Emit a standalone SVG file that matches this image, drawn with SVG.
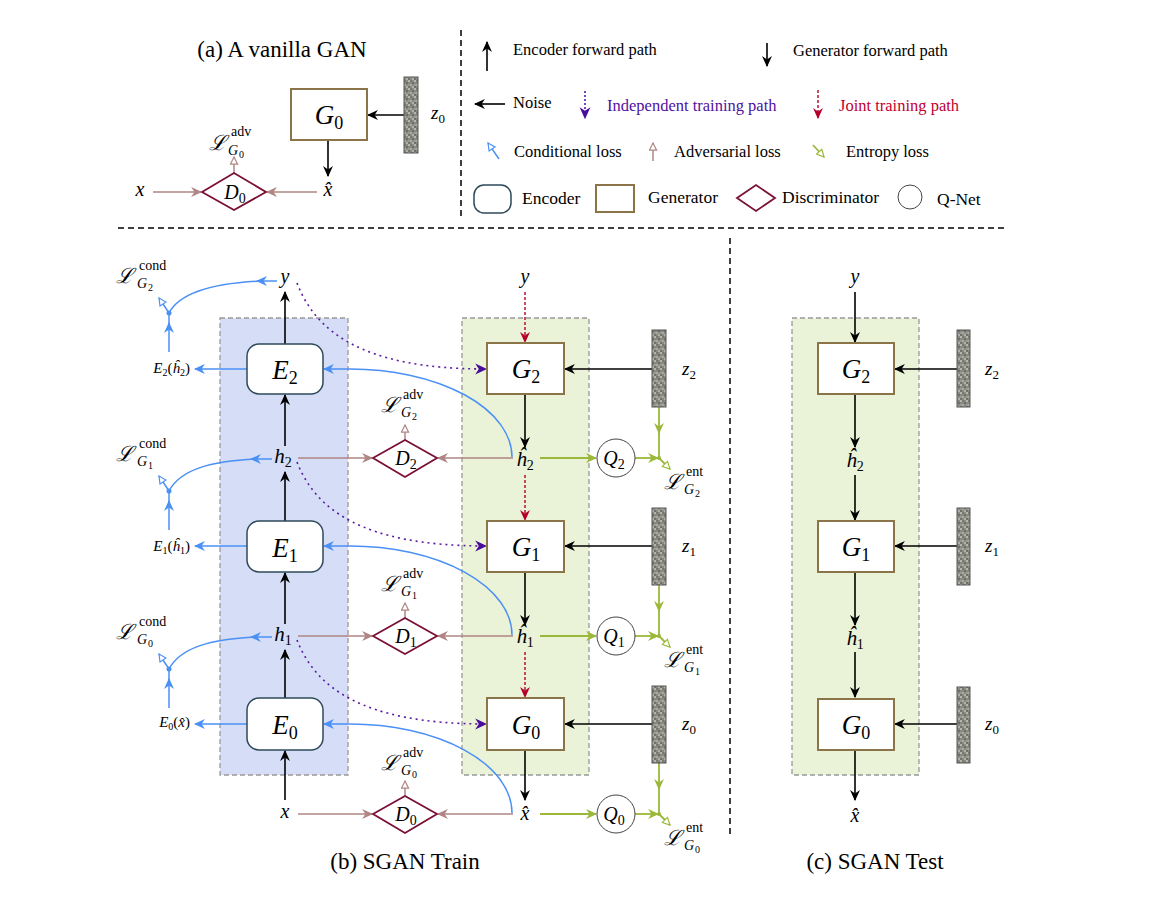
<svg xmlns="http://www.w3.org/2000/svg" width="1170" height="901" viewBox="0 0 1170 901">
<style>
.v{font-family:'Liberation Serif',serif;font-style:italic}
.r{font-family:'Liberation Serif',serif}
.cal{font-family:'DejaVu Serif',serif;font-style:italic;font-size:21px}
.lg{font-family:'Liberation Serif',serif;font-size:16.5px}
.lb{font-family:'Liberation Serif',serif;font-size:17.5px}
.sup{font-family:'Liberation Serif',serif;font-size:14px}
.sg{font-family:'Liberation Serif',serif;font-style:italic;font-size:14px}
.sd{font-family:'Liberation Serif',serif;font-size:10px}
.enc{fill:#fff;stroke:#2e4a5a;stroke-width:1.5}
.gen{fill:#fff;stroke:#8b7448;stroke-width:2}
.dis{fill:#fff;stroke:#7a1034;stroke-width:1.8}
.q{fill:#fff;stroke:#444;stroke-width:1}
.bar{fill:url(#nz);stroke:#555;stroke-width:1}
.blk{stroke:#000;stroke-width:1.6;fill:none;marker-end:url(#ak)}
.blu{stroke:#4a90f5;stroke-width:1.5;fill:none}
.brn{stroke:#b08584;stroke-width:1.5;fill:none}
.grn{stroke:#9bb83a;stroke-width:1.8;fill:none}
.red{stroke:#b5002a;stroke-width:1.4;fill:none;stroke-dasharray:3 2;marker-end:url(#ar)}
.pur{stroke:#5a1aa0;stroke-width:1.6;fill:none;stroke-dasharray:2 4;marker-end:url(#ap)}
.dl{stroke:#000;stroke-width:1.5;stroke-dasharray:6 4;fill:none}
</style>
<defs>
<pattern id="nz" width="6" height="8" patternUnits="userSpaceOnUse">
<rect width="6" height="8" fill="#8a8a82"/>
<rect x="0" y="0" width="2" height="2" fill="#b5b5ac"/>
<rect x="4" y="2" width="2" height="2" fill="#6e6e68"/>
<rect x="2" y="4" width="2" height="2" fill="#a8a8a0"/>
<rect x="0" y="6" width="2" height="2" fill="#70706a"/>
<rect x="2" y="0" width="2" height="2" fill="#7a7a74"/>
<rect x="4" y="6" width="2" height="2" fill="#b0b0a8"/>
<rect x="0" y="4" width="2" height="2" fill="#9a9a94"/>
</pattern>
<marker id="ak" viewBox="0 0 10 10" refX="9" refY="5" markerWidth="11" markerHeight="11" orient="auto" markerUnits="userSpaceOnUse"><path d="M0,0.5 L10,5 L0,9.5 L3,5 Z" fill="#000"/></marker>
<marker id="ab" viewBox="0 0 10 10" refX="9" refY="5" markerWidth="11" markerHeight="11" orient="auto" markerUnits="userSpaceOnUse"><path d="M0,0.5 L10,5 L0,9.5 L3,5 Z" fill="#4a90f5"/></marker>
<marker id="an" viewBox="0 0 10 10" refX="9" refY="5" markerWidth="11" markerHeight="11" orient="auto" markerUnits="userSpaceOnUse"><path d="M0,0.5 L10,5 L0,9.5 L3,5 Z" fill="#b08584"/></marker>
<marker id="ag" viewBox="0 0 10 10" refX="9" refY="5" markerWidth="11" markerHeight="11" orient="auto" markerUnits="userSpaceOnUse"><path d="M0,0.5 L10,5 L0,9.5 L3,5 Z" fill="#9bb83a"/></marker>
<marker id="ar" viewBox="0 0 10 10" refX="9" refY="5" markerWidth="11" markerHeight="11" orient="auto" markerUnits="userSpaceOnUse"><path d="M0,0.5 L10,5 L0,9.5 L3,5 Z" fill="#b5002a"/></marker>
<marker id="ap" viewBox="0 0 10 10" refX="9" refY="5" markerWidth="12" markerHeight="12" orient="auto" markerUnits="userSpaceOnUse"><path d="M0,0.5 L10,5 L0,9.5 L3,5 Z" fill="#4a0c9a"/></marker>
<marker id="ob" viewBox="0 0 10 10" refX="9" refY="5" markerWidth="9" markerHeight="9" orient="auto" markerUnits="userSpaceOnUse"><path d="M1,1 L9,5 L1,9 Z" fill="#fff" stroke="#4a90f5" stroke-width="1.3"/></marker>
<marker id="on" viewBox="0 0 10 10" refX="9" refY="5" markerWidth="9" markerHeight="9" orient="auto" markerUnits="userSpaceOnUse"><path d="M1,1 L9,5 L1,9 Z" fill="#fff" stroke="#b08584" stroke-width="1.3"/></marker>
<marker id="og" viewBox="0 0 10 10" refX="9" refY="5" markerWidth="9" markerHeight="9" orient="auto" markerUnits="userSpaceOnUse"><path d="M1,1 L9,5 L1,9 Z" fill="#fff" stroke="#9bb83a" stroke-width="1.3"/></marker>
</defs>
<rect width="1170" height="901" fill="#fff"/>

<g id="dividers">
<line class="dl" x1="461" y1="30" x2="461" y2="218"/>
<line class="dl" x1="118" y1="228" x2="1005" y2="228"/>
<line class="dl" x1="730" y1="238" x2="730" y2="835"/>
</g>

<g id="enc-region"><rect x="220" y="318" width="128" height="457" fill="#d6def7" stroke="#999" stroke-width="1.3" stroke-dasharray="5 3"/></g>
<g id="gen-region-b"><rect x="462" y="318" width="127" height="457" fill="#eaf2d8" stroke="#999" stroke-width="1.3" stroke-dasharray="5 3"/></g>
<g id="gen-region-c"><rect x="792" y="318" width="127" height="457" fill="#eaf2d8" stroke="#999" stroke-width="1.3" stroke-dasharray="5 3"/></g>

<text class="r" x="282" y="57" font-size="23" text-anchor="middle">(a) A vanilla GAN</text>
<text class="r" x="405" y="869" font-size="23" text-anchor="middle">(b) SGAN Train</text>
<text class="r" x="875" y="869" font-size="23" text-anchor="middle">(c) SGAN Test</text>

<g id="legend">
<line x1="487" y1="71" x2="487" y2="42" class="blk"/>
<text class="lg" x="513" y="55">Encoder forward path</text>
<line x1="767" y1="43" x2="767" y2="66" class="blk"/>
<text class="lg" x="793" y="56">Generator forward path</text>
<line x1="505" y1="104" x2="475" y2="104" class="blk"/>
<text class="lg" x="513" y="108">Noise</text>
<line x1="585" y1="91" x2="585" y2="118" class="pur" style="stroke-dasharray:2 2"/>
<text class="lg" x="607" y="111" fill="#5010a0">Independent training path</text>
<line x1="818" y1="90" x2="818" y2="118" class="red"/>
<text class="lg" x="839" y="111" fill="#c00030">Joint training path</text>
<line x1="499" y1="159" x2="488" y2="143" class="blu" marker-end="url(#ob)"/>
<text class="lg" x="514" y="157">Conditional loss</text>
<line x1="653" y1="161" x2="653" y2="143" class="brn" marker-end="url(#on)"/>
<text class="lg" x="674" y="157">Adversarial loss</text>
<line x1="813" y1="145" x2="824" y2="157" class="grn" stroke-width="1.4" marker-end="url(#og)"/>
<text class="lg" x="846" y="157">Entropy loss</text>
<rect x="474" y="185" width="37" height="28" rx="10" class="enc"/>
<text class="lb" x="522" y="204">Encoder</text>
<rect x="596" y="185" width="38" height="27" class="gen"/>
<text class="lb" x="648" y="203">Generator</text>
<polygon points="737,198 756,185 775,198 756,211" class="dis"/>
<text class="lb" x="782" y="203">Discriminator</text>
<circle cx="910" cy="197" r="12" class="q"/>
<text class="lb" x="937" y="205">Q-Net</text>
</g>

<g id="connectors">
<line x1="404" y1="115" x2="368" y2="115" class="blk"/>
<line x1="328" y1="140" x2="328" y2="176" class="blk"/>
<line x1="153" y1="192" x2="201" y2="192" class="brn" marker-end="url(#an)"/>
<line x1="317" y1="192" x2="267" y2="192" class="brn" marker-end="url(#an)"/>
<line x1="234" y1="173" x2="234" y2="157" class="brn" marker-end="url(#on)"/>

<line x1="285" y1="344" x2="285" y2="292" class="blk"/>
<line x1="285" y1="446" x2="285" y2="395" class="blk"/>
<line x1="285" y1="521" x2="285" y2="472" class="blk"/>
<line x1="285" y1="624" x2="285" y2="573" class="blk"/>
<line x1="285" y1="698" x2="285" y2="650" class="blk"/>
<line x1="285" y1="800" x2="285" y2="751" class="blk"/>

<line x1="247" y1="369" x2="195" y2="369" class="blu" marker-end="url(#ab)"/>
<line x1="247" y1="546" x2="195" y2="546" class="blu" marker-end="url(#ab)"/>
<line x1="247" y1="724" x2="195" y2="724" class="blu" marker-end="url(#ab)"/>
<line x1="169" y1="352" x2="169" y2="323" class="blu" marker-end="url(#ab)"/>
<line x1="169" y1="326" x2="169" y2="313" class="blu"/>
<line x1="277" y1="281" x2="257" y2="281" class="blu" marker-end="url(#ab)"/>
<path d="M 262 281 C 215 283 180 292 169 313" class="blu"/>
<line x1="169" y1="313" x2="159" y2="298" class="blu" marker-end="url(#ob)"/>
<circle cx="169" cy="313" r="2.5" fill="#4a90f5"/>

<line x1="169" y1="530" x2="169" y2="501" class="blu" marker-end="url(#ab)"/>
<line x1="169" y1="504" x2="169" y2="491" class="blu"/>
<line x1="272" y1="459" x2="251" y2="459" class="blu" marker-end="url(#ab)"/>
<path d="M 256 459 C 210 461 180 470 169 491" class="blu"/>
<line x1="169" y1="491" x2="159" y2="476" class="blu" marker-end="url(#ob)"/>
<circle cx="169" cy="491" r="2.5" fill="#4a90f5"/>

<line x1="169" y1="708" x2="169" y2="679" class="blu" marker-end="url(#ab)"/>
<line x1="169" y1="682" x2="169" y2="669" class="blu"/>
<line x1="272" y1="637" x2="251" y2="637" class="blu" marker-end="url(#ab)"/>
<path d="M 256 637 C 210 639 180 648 169 669" class="blu"/>
<line x1="169" y1="669" x2="159" y2="654" class="blu" marker-end="url(#ob)"/>
<circle cx="169" cy="669" r="2.5" fill="#4a90f5"/>

<path d="M 512 457 A 162 88 0 0 0 350 369 L 324 369" class="blu" marker-end="url(#ab)"/>
<path d="M 512 635 A 162 89 0 0 0 350 546 L 324 546" class="blu" marker-end="url(#ab)"/>
<path d="M 512 813 A 162 89 0 0 0 350 724 L 324 724" class="blu" marker-end="url(#ab)"/>

<path d="M 297 283 C 315 330 360 369 486 369" class="pur"/>
<path d="M 297 462 C 315 508 360 546 486 546" class="pur"/>
<path d="M 297 640 C 315 686 360 724 486 724" class="pur"/>

<line x1="298" y1="458" x2="372" y2="458" class="brn" marker-end="url(#an)"/>
<line x1="513" y1="458" x2="438" y2="458" class="brn" marker-end="url(#an)"/>
<line x1="405" y1="440" x2="405" y2="425" class="brn" marker-end="url(#on)"/>
<line x1="298" y1="636" x2="372" y2="636" class="brn" marker-end="url(#an)"/>
<line x1="513" y1="636" x2="438" y2="636" class="brn" marker-end="url(#an)"/>
<line x1="405" y1="618" x2="405" y2="603" class="brn" marker-end="url(#on)"/>
<line x1="298" y1="814" x2="372" y2="814" class="brn" marker-end="url(#an)"/>
<line x1="513" y1="814" x2="438" y2="814" class="brn" marker-end="url(#an)"/>
<line x1="405" y1="796" x2="405" y2="781" class="brn" marker-end="url(#on)"/>

<line x1="525" y1="292" x2="525" y2="342" class="red"/>
<line x1="525" y1="394" x2="525" y2="447" class="blk"/>
<line x1="525" y1="475" x2="525" y2="520" class="red"/>
<line x1="525" y1="572" x2="525" y2="625" class="blk"/>
<line x1="525" y1="652" x2="525" y2="697" class="red"/>
<line x1="525" y1="750" x2="525" y2="800" class="blk"/>
<line x1="652" y1="369" x2="565" y2="369" class="blk"/>
<line x1="652" y1="546" x2="565" y2="546" class="blk"/>
<line x1="652" y1="724" x2="565" y2="724" class="blk"/>

<line x1="540" y1="458" x2="596" y2="458" class="grn" marker-end="url(#ag)"/>
<line x1="635" y1="458" x2="658" y2="458" class="grn" marker-end="url(#ag)"/>
<line x1="659" y1="407" x2="659" y2="433" class="grn" marker-end="url(#ag)"/>
<line x1="659" y1="430" x2="659" y2="458" class="grn"/>
<line x1="659" y1="458" x2="670" y2="469" class="grn" stroke-width="1.3" marker-end="url(#og)"/>
<circle cx="659" cy="458" r="2" fill="#9bb83a"/>

<line x1="540" y1="636" x2="596" y2="636" class="grn" marker-end="url(#ag)"/>
<line x1="635" y1="636" x2="658" y2="636" class="grn" marker-end="url(#ag)"/>
<line x1="659" y1="585" x2="659" y2="611" class="grn" marker-end="url(#ag)"/>
<line x1="659" y1="608" x2="659" y2="636" class="grn"/>
<line x1="659" y1="636" x2="670" y2="647" class="grn" stroke-width="1.3" marker-end="url(#og)"/>
<circle cx="659" cy="636" r="2" fill="#9bb83a"/>

<line x1="540" y1="814" x2="596" y2="814" class="grn" marker-end="url(#ag)"/>
<line x1="635" y1="814" x2="658" y2="814" class="grn" marker-end="url(#ag)"/>
<line x1="659" y1="763" x2="659" y2="789" class="grn" marker-end="url(#ag)"/>
<line x1="659" y1="786" x2="659" y2="814" class="grn"/>
<line x1="659" y1="814" x2="670" y2="825" class="grn" stroke-width="1.3" marker-end="url(#og)"/>
<circle cx="659" cy="814" r="2" fill="#9bb83a"/>

<line x1="855" y1="292" x2="855" y2="342" class="blk"/>
<line x1="855" y1="394" x2="855" y2="447" class="blk"/>
<line x1="855" y1="475" x2="855" y2="520" class="blk"/>
<line x1="855" y1="572" x2="855" y2="625" class="blk"/>
<line x1="855" y1="652" x2="855" y2="697" class="blk"/>
<line x1="855" y1="750" x2="855" y2="800" class="blk"/>
<line x1="957" y1="369" x2="895" y2="369" class="blk"/>
<line x1="957" y1="546" x2="895" y2="546" class="blk"/>
<line x1="957" y1="724" x2="895" y2="724" class="blk"/>
</g>

<g id="a-G0"><rect x="291" y="89" width="76" height="51" class="gen"/><text class="v" x="329" y="124" font-size="27" text-anchor="middle">G<tspan font-style="normal" font-size="18" dy="5">0</tspan></text></g>
<g id="a-z0"><rect x="404" y="77" width="14" height="76" class="bar"/><text class="v" x="431" y="119" font-size="19">z<tspan font-style="normal" font-size="13" dy="4">0</tspan></text></g>
<g id="a-D0"><polygon points="202,192 234,173 266,192 234,210" class="dis"/><text class="v" x="235" y="199" font-size="20" text-anchor="middle">D<tspan font-style="normal" font-size="14" dy="4">0</tspan></text></g>
<g id="a-x"><text class="v" x="140" y="196" font-size="20" text-anchor="middle">x</text></g>
<g id="a-xhat"><text class="v" x="328" y="196" font-size="20" text-anchor="middle">x̂</text></g>
<g id="a-ladv"><text class="cal" x="209" y="150">ℒ</text><text class="sup" x="231" y="136">adv</text><text class="sg" x="228" y="155">G</text><text class="sd" x="239" y="158">0</text></g>

<g id="E2"><rect x="247" y="344" width="76" height="50" rx="12" class="enc"/><text class="v" x="285" y="379" font-size="27" text-anchor="middle">E<tspan font-style="normal" font-size="18" dy="5">2</tspan></text></g>
<g id="E1"><rect x="247" y="521" width="76" height="51" rx="12" class="enc"/><text class="v" x="285" y="557" font-size="27" text-anchor="middle">E<tspan font-style="normal" font-size="18" dy="5">1</tspan></text></g>
<g id="E0"><rect x="247" y="698" width="76" height="52" rx="12" class="enc"/><text class="v" x="285" y="734" font-size="27" text-anchor="middle">E<tspan font-style="normal" font-size="18" dy="5">0</tspan></text></g>

<g id="G2"><rect x="487" y="343" width="77" height="51" class="gen"/><text class="v" x="526" y="378" font-size="27" text-anchor="middle">G<tspan font-style="normal" font-size="18" dy="5">2</tspan></text></g>
<g id="G1"><rect x="487" y="521" width="77" height="51" class="gen"/><text class="v" x="526" y="556" font-size="27" text-anchor="middle">G<tspan font-style="normal" font-size="18" dy="5">1</tspan></text></g>
<g id="G0"><rect x="487" y="698" width="77" height="52" class="gen"/><text class="v" x="526" y="734" font-size="27" text-anchor="middle">G<tspan font-style="normal" font-size="18" dy="5">0</tspan></text></g>

<g id="D2"><polygon points="373,458 405,440 437,458 405,477" class="dis"/><text class="v" x="406" y="465" font-size="20" text-anchor="middle">D<tspan font-style="normal" font-size="14" dy="4">2</tspan></text></g>
<g id="D1"><polygon points="373,636 405,618 437,636 405,654" class="dis"/><text class="v" x="406" y="643" font-size="20" text-anchor="middle">D<tspan font-style="normal" font-size="14" dy="4">1</tspan></text></g>
<g id="D0"><polygon points="373,814 405,796 437,814 405,833" class="dis"/><text class="v" x="406" y="821" font-size="20" text-anchor="middle">D<tspan font-style="normal" font-size="14" dy="4">0</tspan></text></g>

<g id="Q2"><circle cx="616" cy="458" r="19" class="q"/><text class="v" x="614" y="465" font-size="20" text-anchor="middle">Q<tspan font-style="normal" font-size="14" dy="4">2</tspan></text></g>
<g id="Q1"><circle cx="616" cy="636" r="19" class="q"/><text class="v" x="614" y="643" font-size="20" text-anchor="middle">Q<tspan font-style="normal" font-size="14" dy="4">1</tspan></text></g>
<g id="Q0"><circle cx="616" cy="814" r="19" class="q"/><text class="v" x="614" y="821" font-size="20" text-anchor="middle">Q<tspan font-style="normal" font-size="14" dy="4">0</tspan></text></g>

<g id="z2"><rect x="652" y="330" width="14" height="77" class="bar"/><text class="v" x="682" y="375" font-size="19">z<tspan font-style="normal" font-size="13" dy="4">2</tspan></text></g>
<g id="z1"><rect x="652" y="508" width="14" height="77" class="bar"/><text class="v" x="682" y="552" font-size="19">z<tspan font-style="normal" font-size="13" dy="4">1</tspan></text></g>
<g id="z0"><rect x="652" y="686" width="14" height="77" class="bar"/><text class="v" x="682" y="730" font-size="19">z<tspan font-style="normal" font-size="13" dy="4">0</tspan></text></g>

<g id="b-y-enc"><text class="v" x="285" y="283" font-size="20" text-anchor="middle">y</text></g>
<g id="b-h2"><text class="v" x="283" y="463" font-size="21" text-anchor="middle">h<tspan font-style="normal" font-size="14" dy="4">2</tspan></text></g>
<g id="b-h1"><text class="v" x="283" y="641" font-size="21" text-anchor="middle">h<tspan font-style="normal" font-size="14" dy="4">1</tspan></text></g>
<g id="b-x"><text class="v" x="285" y="818" font-size="20" text-anchor="middle">x</text></g>
<g id="b-y-gen"><text class="v" x="525" y="283" font-size="20" text-anchor="middle">y</text></g>
<g id="b-hh2"><text class="v" x="525" y="466" font-size="21" text-anchor="middle">ĥ<tspan font-style="normal" font-size="14" dy="4">2</tspan></text></g>
<g id="b-hh1"><text class="v" x="525" y="643" font-size="21" text-anchor="middle">ĥ<tspan font-style="normal" font-size="14" dy="4">1</tspan></text></g>
<g id="b-xhat"><text class="v" x="525" y="820" font-size="20" text-anchor="middle">x̂</text></g>

<g id="e2out"><text class="v" x="190" y="373" font-size="15" text-anchor="end">E<tspan font-style="normal" font-size="10" dy="3">2</tspan><tspan font-style="normal" dy="-3">(</tspan>ĥ<tspan font-style="normal" font-size="10" dy="3">2</tspan><tspan font-style="normal" dy="-3">)</tspan></text></g>
<g id="e1out"><text class="v" x="190" y="551" font-size="15" text-anchor="end">E<tspan font-style="normal" font-size="10" dy="3">1</tspan><tspan font-style="normal" dy="-3">(</tspan>ĥ<tspan font-style="normal" font-size="10" dy="3">1</tspan><tspan font-style="normal" dy="-3">)</tspan></text></g>
<g id="e0out"><text class="v" x="190" y="727" font-size="15" text-anchor="end">E<tspan font-style="normal" font-size="10" dy="3">0</tspan><tspan font-style="normal" dy="-3">(</tspan>x̂<tspan font-style="normal">)</tspan></text></g>

<g id="lc2"><text class="cal" x="116" y="283">ℒ</text><text class="sup" x="139" y="270">cond</text><text class="sg" x="137" y="288">G</text><text class="sd" x="148" y="291">2</text></g>
<g id="lc1"><text class="cal" x="116" y="461">ℒ</text><text class="sup" x="139" y="448">cond</text><text class="sg" x="137" y="466">G</text><text class="sd" x="148" y="469">1</text></g>
<g id="lc0"><text class="cal" x="116" y="639">ℒ</text><text class="sup" x="139" y="626">cond</text><text class="sg" x="137" y="644">G</text><text class="sd" x="148" y="647">0</text></g>
<g id="la2"><text class="cal" x="381" y="412">ℒ</text><text class="sup" x="403" y="399">adv</text><text class="sg" x="401" y="417">G</text><text class="sd" x="412" y="420">2</text></g>
<g id="la1"><text class="cal" x="381" y="591">ℒ</text><text class="sup" x="403" y="578">adv</text><text class="sg" x="401" y="596">G</text><text class="sd" x="412" y="599">1</text></g>
<g id="la0"><text class="cal" x="381" y="770">ℒ</text><text class="sup" x="403" y="757">adv</text><text class="sg" x="401" y="775">G</text><text class="sd" x="412" y="778">0</text></g>
<g id="le2"><text class="cal" x="664" y="489">ℒ</text><text class="sup" x="686" y="476">ent</text><text class="sg" x="684" y="494">G</text><text class="sd" x="695" y="497">2</text></g>
<g id="le1"><text class="cal" x="664" y="667">ℒ</text><text class="sup" x="686" y="654">ent</text><text class="sg" x="684" y="672">G</text><text class="sd" x="695" y="675">1</text></g>
<g id="le0"><text class="cal" x="664" y="845">ℒ</text><text class="sup" x="686" y="832">ent</text><text class="sg" x="684" y="850">G</text><text class="sd" x="695" y="853">0</text></g>

<g id="c-G2"><rect x="818" y="343" width="76" height="51" class="gen"/><text class="v" x="856" y="378" font-size="27" text-anchor="middle">G<tspan font-style="normal" font-size="18" dy="5">2</tspan></text></g>
<g id="c-G1"><rect x="818" y="521" width="76" height="51" class="gen"/><text class="v" x="856" y="556" font-size="27" text-anchor="middle">G<tspan font-style="normal" font-size="18" dy="5">1</tspan></text></g>
<g id="c-G0"><rect x="818" y="699" width="76" height="51" class="gen"/><text class="v" x="856" y="734" font-size="27" text-anchor="middle">G<tspan font-style="normal" font-size="18" dy="5">0</tspan></text></g>
<g id="c-z2"><rect x="957" y="330" width="13" height="77" class="bar"/><text class="v" x="985" y="375" font-size="19">z<tspan font-style="normal" font-size="13" dy="4">2</tspan></text></g>
<g id="c-z1"><rect x="957" y="508" width="13" height="77" class="bar"/><text class="v" x="985" y="552" font-size="19">z<tspan font-style="normal" font-size="13" dy="4">1</tspan></text></g>
<g id="c-z0"><rect x="957" y="687" width="13" height="76" class="bar"/><text class="v" x="985" y="730" font-size="19">z<tspan font-style="normal" font-size="13" dy="4">0</tspan></text></g>
<g id="c-y"><text class="v" x="855" y="283" font-size="20" text-anchor="middle">y</text></g>
<g id="c-hh2"><text class="v" x="855" y="467" font-size="21" text-anchor="middle">ĥ<tspan font-style="normal" font-size="14" dy="4">2</tspan></text></g>
<g id="c-hh1"><text class="v" x="855" y="645" font-size="21" text-anchor="middle">ĥ<tspan font-style="normal" font-size="14" dy="4">1</tspan></text></g>
<g id="c-xhat"><text class="v" x="855" y="822" font-size="20" text-anchor="middle">x̂</text></g>
</svg>
